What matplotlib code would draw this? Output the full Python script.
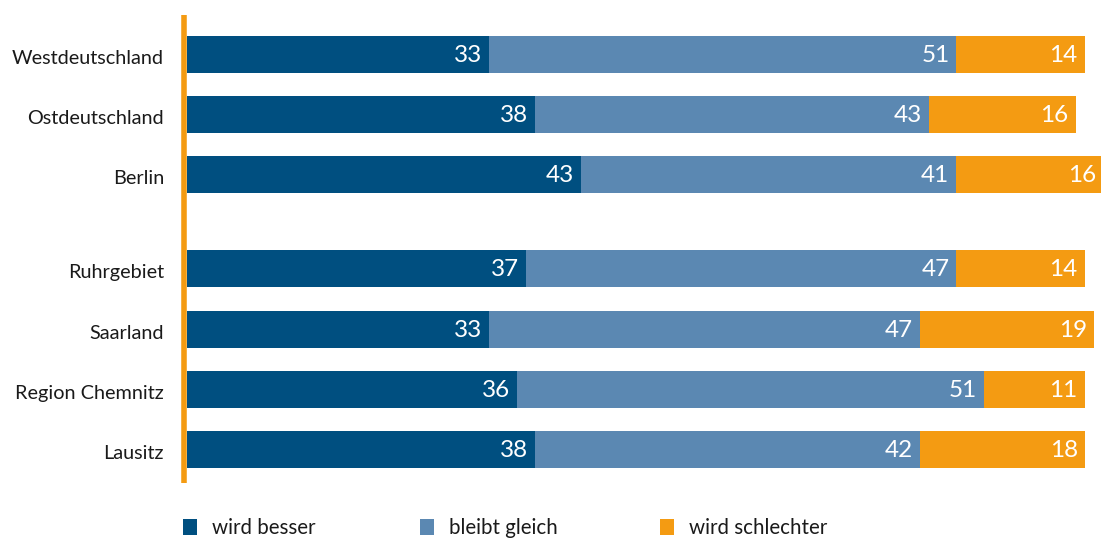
import matplotlib.pyplot as plt
import matplotlib as mpl
from matplotlib.patches import Rectangle
from matplotlib.lines import Line2D

mpl.rcParams["font.family"] = ["Lato", "DejaVu Sans"]

# ==========================================
# Daten
# ==========================================
regions = ["Westdeutschland", "Ostdeutschland", "Berlin",
           "Ruhrgebiet", "Saarland", "Region Chemnitz", "Lausitz"]
besser = [33, 38, 43, 37, 33, 36, 38]
gleich = [51, 43, 41, 47, 47, 51, 42]
schlechter = [14, 16, 16, 14, 19, 11, 18]
series_names = ["wird besser", "bleibt gleich", "wird schlechter"]

colors = ["#004f80", "#5b88b2", "#f49b12"]

# Zeilenpositionen (Lücke nach Berlin)
ypos = [0, 1, 2, 3.565, 4.565, 5.565, 6.565]

W, H = 1101, 539
fig = plt.figure(figsize=(W / 100, H / 100), dpi=100)

# Achse: beginnt bei x=187px, ~9.16 px pro Prozentpunkt, Zeilenabstand 60.3 px
px_unit = 9.16
row_px = 60.3
x0 = 187
y0 = 54
ax = fig.add_axes([x0 / W, 0, (W - x0) / W, 1])
ax.set_xlim(0, (W - x0) / px_unit)
ax.set_ylim((H - y0) / row_px, -y0 / row_px)
ax.axis("off")

bar_h = 37 / row_px
left = [0] * len(regions)
for vals, col in zip([besser, gleich, schlechter], colors):
    ax.barh(ypos, vals, left=left, height=bar_h, color=col, linewidth=0)
    for y, l, v in zip(ypos, left, vals):
        ax.annotate(str(v), xy=(l + v, y), xytext=(-7, -1), textcoords="offset pixels",
                    ha="right", va="center", color="white", fontsize=17.5,
                    annotation_clip=False)
    left = [l + v for l, v in zip(left, vals)]

# Kategorien links
for y, name in zip(ypos, regions):
    ax.annotate(name, xy=(0, y), xytext=(-23, -4), textcoords="offset pixels",
                ha="right", va="center", color="#1a1a1a", fontsize=14.3,
                annotation_clip=False)

# orange Achsenlinie
fig.add_artist(Line2D([184 / W, 184 / W], [1 - 15 / H, 1 - 483 / H],
                      color="#f49b12", lw=4.0, solid_capstyle="butt"))

# Legende unten
leg_x = [183, 420, 660]
for lx, name, col in zip(leg_x, series_names, colors):
    fig.add_artist(Rectangle((lx / W, 1 - 535 / H), 14 / W, 16 / H,
                             transform=fig.transFigure, color=col, lw=0))
    fig.text((lx + 29) / W, 1 - 528 / H, name, ha="left", va="center",
             fontsize=14.8, color="#1a1a1a")

plt.savefig("out.png", dpi=100)
